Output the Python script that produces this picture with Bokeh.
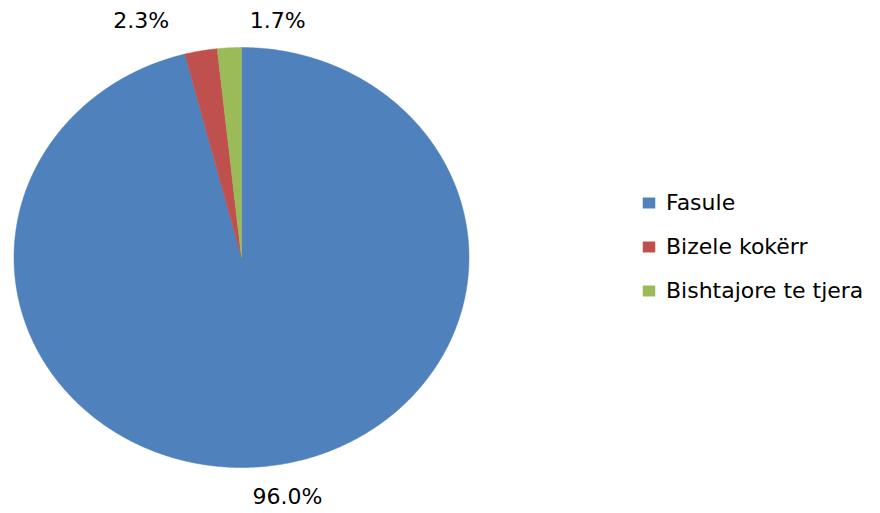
import numpy as np
from bokeh.plotting import figure
from bokeh.models import ColumnDataSource, Legend, LegendItem, Range1d
from bokeh.core.properties import value
from bokeh.embed import file_html
from bokeh.resources import INLINE

categories = ["Fasule", "Bizele kokërr", "Bishtajore te tjera"]
shares = [96.0, 2.3, 1.7]
labels = ["96.0%", "2.3%", "1.7%"]
colors = ["#4F81BD", "#C0504D", "#9BBB59"]

W, H = 880, 513
cx_px, cy_px = 241, 257      # pie centre in figure pixels (from top-left)
rx_px, ry_px = 227.5, 210.0  # pixel size of one data unit along x / y
FONT = "DejaVu Sans"

p = figure(width=W, height=H, output_backend="svg", toolbar_location=None,
           min_border=0, outline_line_color=None)
p.x_range = Range1d(-cx_px / rx_px, (W - cx_px) / rx_px)
p.y_range = Range1d(-(H - cy_px) / ry_px, cy_px / ry_px)
p.axis.visible = False
p.grid.visible = False
p.background_fill_color = "white"
p.border_fill_color = "white"

vals = np.array(shares)
frac = vals / vals.sum()
ends = np.pi / 2 - 2 * np.pi * np.cumsum(frac)
starts = np.concatenate([[np.pi / 2], ends[:-1]])

renderers = []
for i, cat in enumerate(categories):
    n = max(8, int(abs(starts[i] - ends[i]) / (2 * np.pi) * 720))
    th = np.linspace(starts[i], ends[i], n)
    xs = np.concatenate([[0.0], np.cos(th), [0.0]])
    ys = np.concatenate([[0.0], np.sin(th), [0.0]])
    r = p.patch(xs, ys, fill_color=colors[i], line_color=colors[i], line_width=0.5)
    renderers.append(r)

mids = (starts + ends) / 2
lr = 1.14
lab_src = ColumnDataSource(dict(
    x=np.cos(mids) * lr, y=np.sin(mids) * lr, text=labels,
    xo=[13.5, -54, 50], yo=[1.5, -1.4, 2]))
p.text(x="x", y="y", text="text", source=lab_src, x_offset="xo", y_offset="yo",
       text_align="center", text_baseline="middle",
       text_font=value(FONT), text_font_size="22px", text_color="#000000")

items = [LegendItem(label=cat, renderers=[renderers[i]]) for i, cat in enumerate(categories)]
legend = Legend(items=items, location=(641, 210), orientation="vertical",
                border_line_color=None, background_fill_alpha=0,
                glyph_width=15, glyph_height=13, label_standoff=10,
                label_text_font=FONT, label_text_font_size="22px",
                label_text_color="#000000",
                label_height=20, spacing=19, padding=0, margin=0)
p.add_layout(legend, "center")

open("out.html", "w").write(file_html(p, INLINE))
